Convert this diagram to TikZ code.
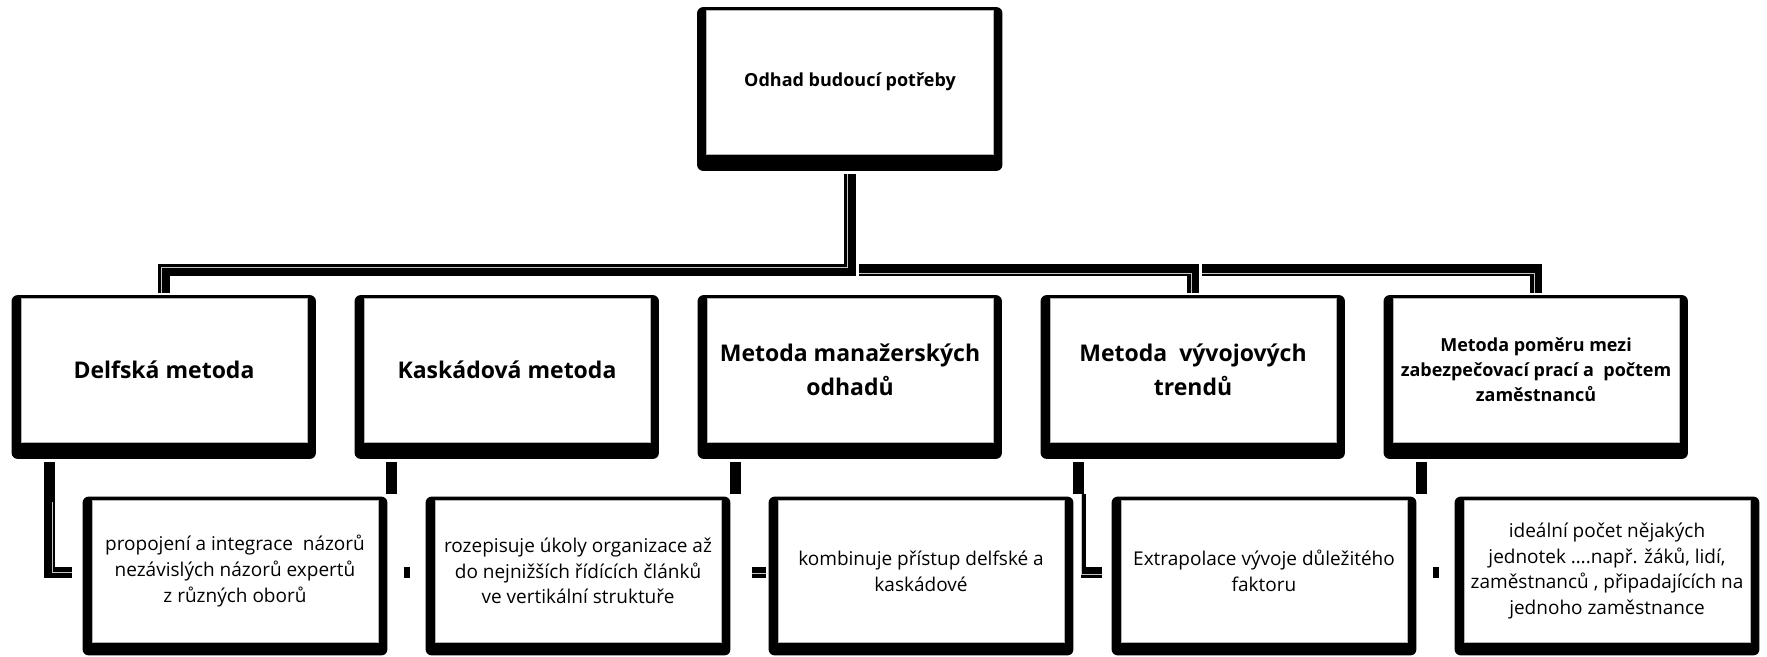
\documentclass[tikz,border=0pt]{standalone}
\usepackage{fontspec}
\setmainfont{Open Sans}
\usetikzlibrary{backgrounds}
\tikzset{
  inbox/.style={draw=gray!60, line width=0.8pt, fill=white, minimum width=286pt,
    minimum height=144pt, inner sep=0pt, align=center, text=black},
  hd/.style={inbox, font=\fontsize{23}{34}\selectfont\bfseries},
  hdsmall/.style={inbox, font=\fontsize{18}{25}\selectfont\bfseries},
  topbox/.style={inbox, minimum width=287pt, font=\fontsize{18}{26}\selectfont\bfseries},
  ch/.style={inbox, minimum height=142pt, font=\fontsize{19}{25.7}\selectfont},
  frame/.style={fill=black, rounded corners=6pt},
  conn/.style={line width=12pt, black},
  cconn/.style={line width=11pt, black},
  connhl/.style={line width=1pt, gray!45},
}
\begin{document}
\begin{tikzpicture}[x=1pt,y=-1pt]
\useasboundingbox (0,0) rectangle (1767,656);

% boxes
\node[topbox] (top) at (850,82) {Odhad budoucí potřeby};
\node[hd] (h1) at (164,370) {Delfská metoda};
\node[hd] (h2) at (507,370) {Kaskádová metoda};
\node[hd] (h3) at (850,370) {Metoda manažerských\\odhadů};
\node[hd] (h4) at (1193,370) {Metoda~ vývojových\\trendů};
\node[hdsmall] (h5) at (1536,370) {Metoda poměru mezi\\zabezpečovací prací a~ počtem\\zaměstnanců};

\node[ch] (c1) at (235,571) {propojení a integrace~ názorů\\nezávislých názorů expertů\\z různých oborů};
\node[ch] (c2) at (578,571) {rozepisuje úkoly organizace až\\do nejnižších řídících článků\\ve vertikální struktuře};
\node[ch] (c3) at (921,571) {kombinuje přístup delfské a\\kaskádové};
\node[ch] (c4) at (1264,571) {Extrapolace vývoje důležitého\\faktoru};
\node[ch] (c5) at (1607,571) {ideální počet nějakých\\jednotek ….např. žáků, lidí,\\zaměstnanců , připadajících na\\jednoho zaměstnance};

\begin{scope}[on background layer]
  \foreach \n in {top,h1,h2,h3,h4,h5}
    \fill[frame] ([shift={(-9,-2.5)}]\n.north west) rectangle ([shift={(8.5,16.5)}]\n.south east);
  \foreach \n in {c1,c2,c3,c4,c5}
    \fill[frame] ([shift={(-9,-3)}]\n.north west) rectangle ([shift={(9,13)}]\n.south east);
\end{scope}

% bus
\coordinate (bus) at (850,270);
\coordinate (t0) at ([yshift=-20pt]top.south);
\coordinate (k1) at (top.south |- bus);
\coordinate (k2) at (h1.north |- bus);
\coordinate (d1) at ([yshift=5pt]h1.north);
\draw[conn] (t0) -- (k1) -- (k2) -- (d1);
\draw[connhl] ([shift={(-3,0)}]t0) -- ([shift={(-3,-3)}]k1) -- ([shift={(-3,-3)}]k2) -- ([shift={(-3,0)}]d1);

\coordinate (r1) at ([xshift=9pt]k1);
\coordinate (k4) at (h4.north |- bus);
\coordinate (d4) at ([yshift=5pt]h4.north);
\draw[conn] (r1) -- (k4) -- (d4);
\draw[connhl] ([shift={(0,3)}]r1) -- ([shift={(-2,3)}]k4) -- ([shift={(-2,0)}]d4);

\coordinate (r2) at ([xshift=9pt]k4);
\coordinate (k5) at (h5.north |- bus);
\coordinate (d5) at ([yshift=5pt]h5.north);
\draw[conn] (r2) -- (k5) -- (d5);
\draw[connhl] ([shift={(0,3)}]r2) -- ([shift={(-2,3)}]k5) -- ([shift={(-2,0)}]d5);

% child connectors
\draw[cconn] ([xshift=29pt,yshift=-20pt]h1.south west) |- ([xshift=-20pt,yshift=-1.5pt]c1.west);
\draw[connhl] ([xshift=32pt,yshift=-60pt]h1.south west) |- ([xshift=-20pt,yshift=-1pt]c1.west);

\draw[cconn] ([xshift=28pt,yshift=-20pt]h2.south west) -- ([xshift=28pt,yshift=-52pt]h2.south west);
\draw[cconn] ([xshift=-31pt,yshift=-1.5pt]c2.west) -- ([xshift=-25pt,yshift=-1.5pt]c2.west);

\draw[cconn] ([xshift=29pt,yshift=-20pt]h3.south west) -- ([xshift=29pt,yshift=-52pt]h3.south west);
\draw[cconn] ([xshift=-26pt,yshift=-1.5pt]c3.west) -- ([xshift=-12pt,yshift=-1.5pt]c3.west);
\draw[connhl] ([xshift=-26pt,yshift=-2pt]c3.west) -- ([xshift=-12pt,yshift=-2pt]c3.west);

\draw[cconn] ([xshift=29pt,yshift=-20pt]h4.south west) -- ([xshift=29pt,yshift=-52pt]h4.south west);
\draw[line width=5pt] ([xshift=33.5pt,yshift=-52pt]h4.south west) -- ([xshift=33.5pt,yshift=-136pt]h4.south west);
\draw[cconn] ([xshift=-40pt,yshift=-1.5pt]c4.west) -- ([xshift=-19pt,yshift=-1.5pt]c4.west);
\draw[connhl] ([xshift=32pt,yshift=-52pt]h4.south west) |- ([xshift=-19pt,yshift=-3pt]c4.west);

\draw[cconn] ([xshift=29pt,yshift=-20pt]h5.south west) -- ([xshift=29pt,yshift=-52pt]h5.south west);
\draw[cconn] ([xshift=-31pt,yshift=-1.5pt]c5.west) -- ([xshift=-25pt,yshift=-1.5pt]c5.west);
\end{tikzpicture}
\end{document}
